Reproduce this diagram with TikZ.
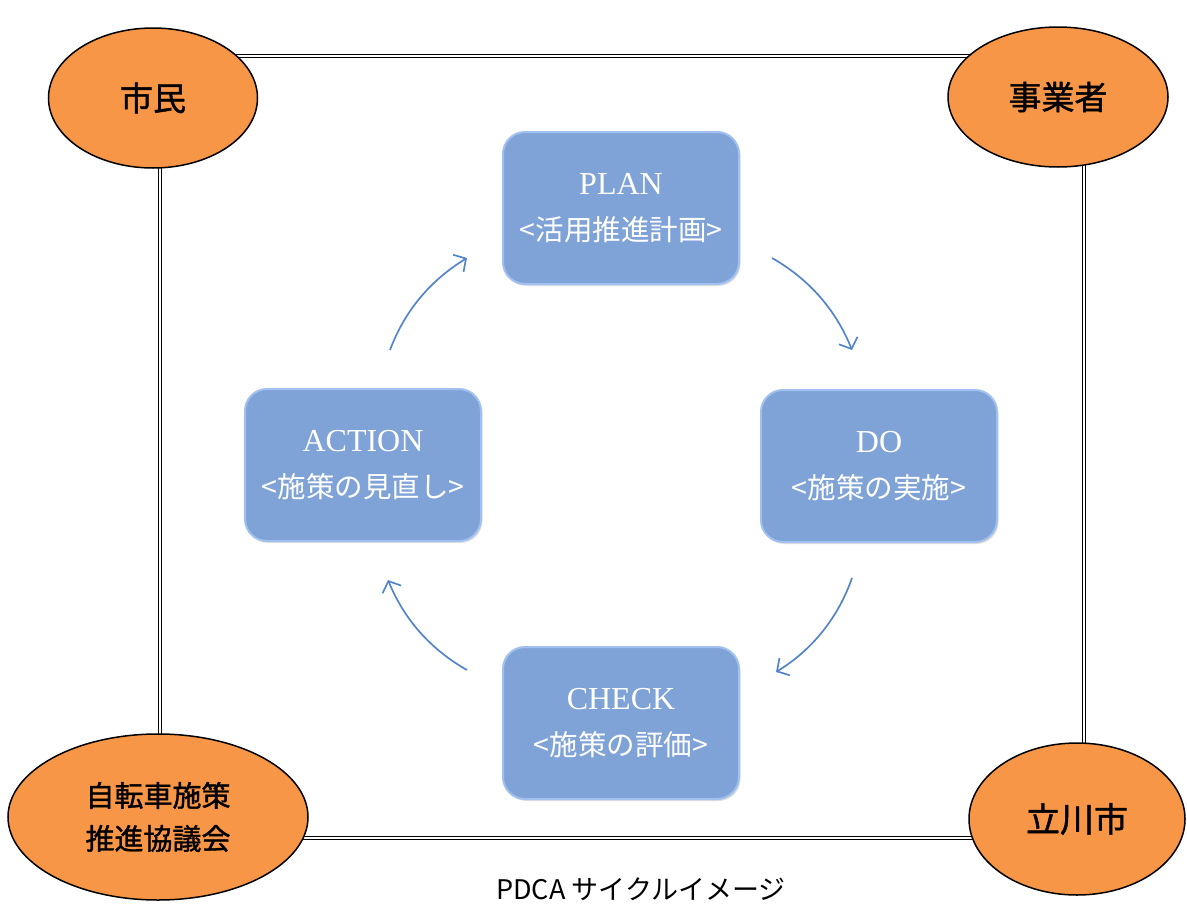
\documentclass[tikz,border=0pt]{standalone}
\usepackage{fontspec}
\setmainfont{Liberation Serif}
\newfontfamily\jp{Noto Sans CJK JP}
\newfontfamily\jpb[FakeBold=1.3]{Noto Sans CJK JP}
\usetikzlibrary{shapes.geometric,arrows.meta,shadows}
\definecolor{orangefill}{RGB}{247,150,70}
\definecolor{boxfill}{RGB}{128,163,215}
\definecolor{boxedge}{RGB}{160,192,240}
\definecolor{arrowcol}{RGB}{84,132,203}
\tikzset{
  actor/.style={ellipse, draw=black, line width=1.5pt, fill=orangefill, inner sep=0pt, align=center},
  stagebox/.style={rounded corners=22pt, fill=boxfill, draw=boxedge, line width=2pt,
     minimum width=236pt, minimum height=152pt, align=center, text=white,
     font=\fontsize{32}{46}\selectfont,
     drop shadow={opacity=0.25, shadow xshift=1.5pt, shadow yshift=-2pt}},
  cyc/.style={draw=arrowcol, line width=1.7pt, -{Straight Barb[length=9pt,width=20pt,line width=1.7pt]}},
  framebox/.style={draw=black, double=white, double distance=2.2pt, line width=1.1pt}
}
\newcommand{\jline}[1]{\fontsize{28.5}{40}\selectfont\jp #1}
\begin{document}
\begin{tikzpicture}[x=1pt,y=-1pt]
\useasboundingbox (0,0) rectangle (1187,905);
% frame
\draw[framebox] (160,56) rectangle (1084,838);
% actors
\node[actor, minimum width=209pt, minimum height=140pt, font=\fontsize{33}{40}\selectfont\jpb] (shimin) at (153,98) {市民};
\node[actor, minimum width=220pt, minimum height=140pt, font=\fontsize{33}{40}\selectfont\jpb] (jigyo) at (1058,97) {事業者};
\node[actor, minimum width=300pt, minimum height=166pt, font=\fontsize{29}{45}\selectfont\jpb] (kyogi) at (158,817) {自転車施策\\[-2pt]推進協議会};
\node[actor, minimum width=216pt, minimum height=152pt, font=\fontsize{34}{40}\selectfont\jpb] (tachikawa) at (1077,819) {立川市};
% stage boxes
\node[stagebox] (plan) at (621,208) {PLAN\\[0pt]\jline{<活用推進計画>}};
\node[stagebox] (do) at (879,466) {DO\\[0pt]\jline{<施策の実施>}};
\node[stagebox] (check) at (621,723) {CHECK\\[0pt]\jline{<施策の評価>}};
\node[stagebox] (action) at (363,465) {ACTION\\[0pt]\jline{<施策の見直し>}};
% arrow end points
\coordinate (pd1) at (772,258); \coordinate (pd2) at (852,350);
\coordinate (dc1) at (852,578); \coordinate (dc2) at (776,672);
\coordinate (ca1) at (467,670); \coordinate (ca2) at (388,580);
\coordinate (ap1) at (390,350); \coordinate (ap2) at (467,258);
\draw[cyc] (pd1) .. controls (809,279) and (836,310) .. (pd2);
\draw[cyc] (dc1) .. controls (838,618) and (812,650) .. (dc2);
\draw[cyc] (ca1) .. controls (430,649) and (404,619) .. (ca2);
\draw[cyc] (ap1) .. controls (405,310) and (431,280) .. (ap2);
% caption
\node[font=\fontsize{27}{32}\selectfont\jp, inner sep=0pt] (caption) at (641,889) {PDCA\ サイクルイメージ};
\end{tikzpicture}
\end{document}
